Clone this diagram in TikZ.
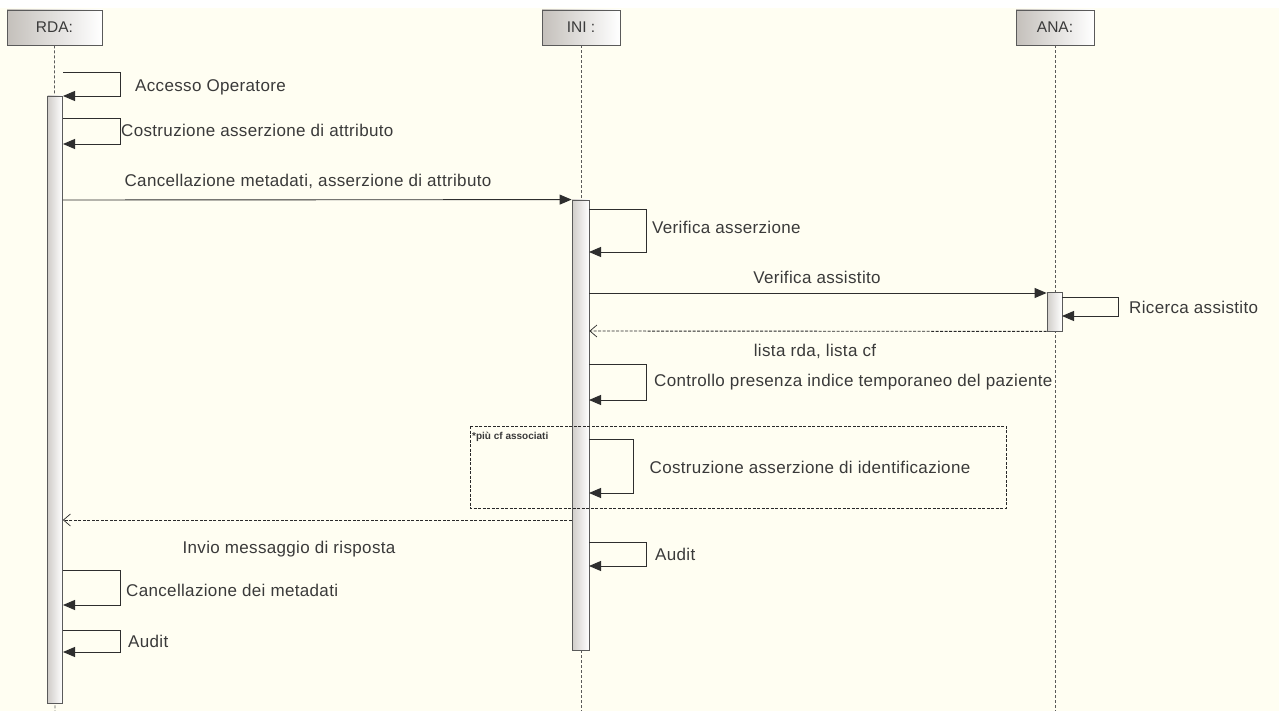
\documentclass[tikz,border=0pt]{standalone}
\usepackage{fontspec}
\setmainfont{Liberation Sans}
\usetikzlibrary{arrows.meta}
\definecolor{bgcream}{HTML}{FFFEF2}
\definecolor{txt}{HTML}{3A3A3A}
\definecolor{edge}{HTML}{5A5A5A}
\definecolor{shadeg}{HTML}{C4C0BB}
\tikzset{
  lifebox/.style={draw=edge, line width=0.9pt, left color=shadeg, right color=white, minimum width=78pt, minimum height=35pt, inner sep=0pt, font=\fontsize{15.5}{17}\selectfont, text=txt},
  actbar/.style={draw=edge, line width=0.8pt, left color=shadeg!80, right color=white, inner sep=0pt},
  lifeline/.style={draw=edge, line width=0.8pt, dash pattern=on 3pt off 2pt},
  msg/.style={draw=txt!80!black, line width=0.9pt, -{Triangle[length=12pt,width=10pt]}},
  ret/.style={draw=txt!70!black, line width=0.9pt, dash pattern=on 3pt off 1.5pt, -{Straight Barb[length=7pt,width=12pt,line width=0.7pt]}},
  lbl/.style={font=\fontsize{17}{19}\selectfont\addfontfeatures{LetterSpace=2}, text=txt, inner sep=0pt},
  framebox/.style={draw=txt!70!black, line width=1pt, dash pattern=on 3pt off 1.5pt}
}
\begin{document}
\begin{tikzpicture}[x=1pt,y=-1pt]
\useasboundingbox (0,0) rectangle (1279,711);
\fill[white] (0,0) rectangle (1279,711);
\fill[bgcream] (0,8) rectangle (1279,711);

% lifeline heads
\node[lifebox, minimum width=95pt] (rda) at (54.5,27.5) {RDA:};
\node[lifebox] (ini) at (581,27.5) {INI :};
\node[lifebox] (ana) at (1055,27.5) {ANA:};

% lifelines
\coordinate (rdaend) at (55,711);
\coordinate (iniend) at (581,711);
\coordinate (anaend) at (1055,711);
\draw[lifeline] (rda.south) -- (rdaend);
\draw[lifeline] (ini.south) -- (iniend);
\draw[lifeline] (ana.south) -- (anaend);

% activation bars
\node[actbar, minimum width=15pt, minimum height=607pt] (rdaact) at (55,399.5) {};
\node[actbar, minimum width=17pt, minimum height=450pt] (iniact) at (580.5,425) {};
\node[actbar, minimum width=15pt, minimum height=39pt] (anaact) at (1054.5,311.5) {};

% self message RDA: Accesso Operatore
\coordinate (s1a) at (63,72); \coordinate (s1b) at (63,96);
\draw[msg] (s1a) -- (120,72) -- (120,96) -- (s1b);
\node[lbl, anchor=west] (l1) at (135,87) {Accesso Operatore};

% self message RDA: Costruzione asserzione di attributo
\coordinate (s2a) at (63,118); \coordinate (s2b) at (63,144);
\draw[msg] (s2a) -- (120,118) -- (120,144) -- (s2b);
\node[lbl, anchor=west] (l2) at (121,130) {Costruzione asserzione di attributo};

% RDA -> INI
\draw[msg] (rdaact.east |- 0,200) -- (iniact.north west);
\node[lbl] (l3) at (308,181) {Cancellazione metadati, asserzione di attributo};

% INI self: Verifica asserzione
\coordinate (s4a) at (589,209); \coordinate (s4b) at (589,252);
\draw[msg] (s4a) -- (646,209) -- (646,252) -- (s4b);
\node[lbl, anchor=west] (l4) at (652,227) {Verifica asserzione};

% INI -> ANA
\draw[msg] (iniact.east |- 0,293) -- (anaact.west |- 0,293);
\node[lbl] (l5) at (817,277) {Verifica assistito};

% ANA self: Ricerca assistito
\coordinate (s6a) at (1062,297); \coordinate (s6b) at (1062,316);
\draw[msg] (s6a) -- (1118,297) -- (1118,316) -- (s6b);
\node[lbl, anchor=west] (l6) at (1129,307) {Ricerca assistito};

% ANA -> INI return
\draw[ret] (anaact.south west) -- (iniact.east |- 0,331);
\node[lbl] (l7) at (815,351) {lista rda, lista cf};

% INI self: Controllo presenza
\coordinate (s8a) at (589,364); \coordinate (s8b) at (589,400);
\draw[msg] (s8a) -- (646,364) -- (646,400) -- (s8b);
\node[lbl, anchor=west] (l8) at (654,382) {Controllo presenza indice temporaneo del paziente};

% combined fragment
\draw[framebox] (470,426) rectangle (1006,508);
\node[anchor=west, inner sep=0pt, font=\bfseries\fontsize{10}{11}\selectfont, text=txt] (fl) at (472,437) {*più cf associati};

% INI self: Costruzione asserzione di identificazione
\coordinate (s9a) at (589,439); \coordinate (s9b) at (589,493);
\draw[msg] (s9a) -- (633,439) -- (633,493) -- (s9b);
\node[lbl] (l9) at (810,467) {Costruzione asserzione di identificazione};

% INI -> RDA return
\draw[ret] (iniact.west |- 0,520) -- (rdaact.east |- 0,520);
\node[lbl] (l10) at (289,549) {Invio messaggio di risposta};

% INI self: Audit
\coordinate (s11a) at (589,542); \coordinate (s11b) at (589,566);
\draw[msg] (s11a) -- (646,542) -- (646,566) -- (s11b);
\node[lbl, anchor=west] (l11) at (655,554) {Audit};

% RDA self: Cancellazione dei metadati
\coordinate (s12a) at (63,570); \coordinate (s12b) at (63,605);
\draw[msg] (s12a) -- (120,570) -- (120,605) -- (s12b);
\node[lbl, anchor=west] (l12) at (126,590) {Cancellazione dei metadati};

% RDA self: Audit
\coordinate (s13a) at (63,630); \coordinate (s13b) at (63,652);
\draw[msg] (s13a) -- (120,630) -- (120,652) -- (s13b);
\node[lbl, anchor=west] (l13) at (128,641) {Audit};
\end{tikzpicture}
\end{document}
